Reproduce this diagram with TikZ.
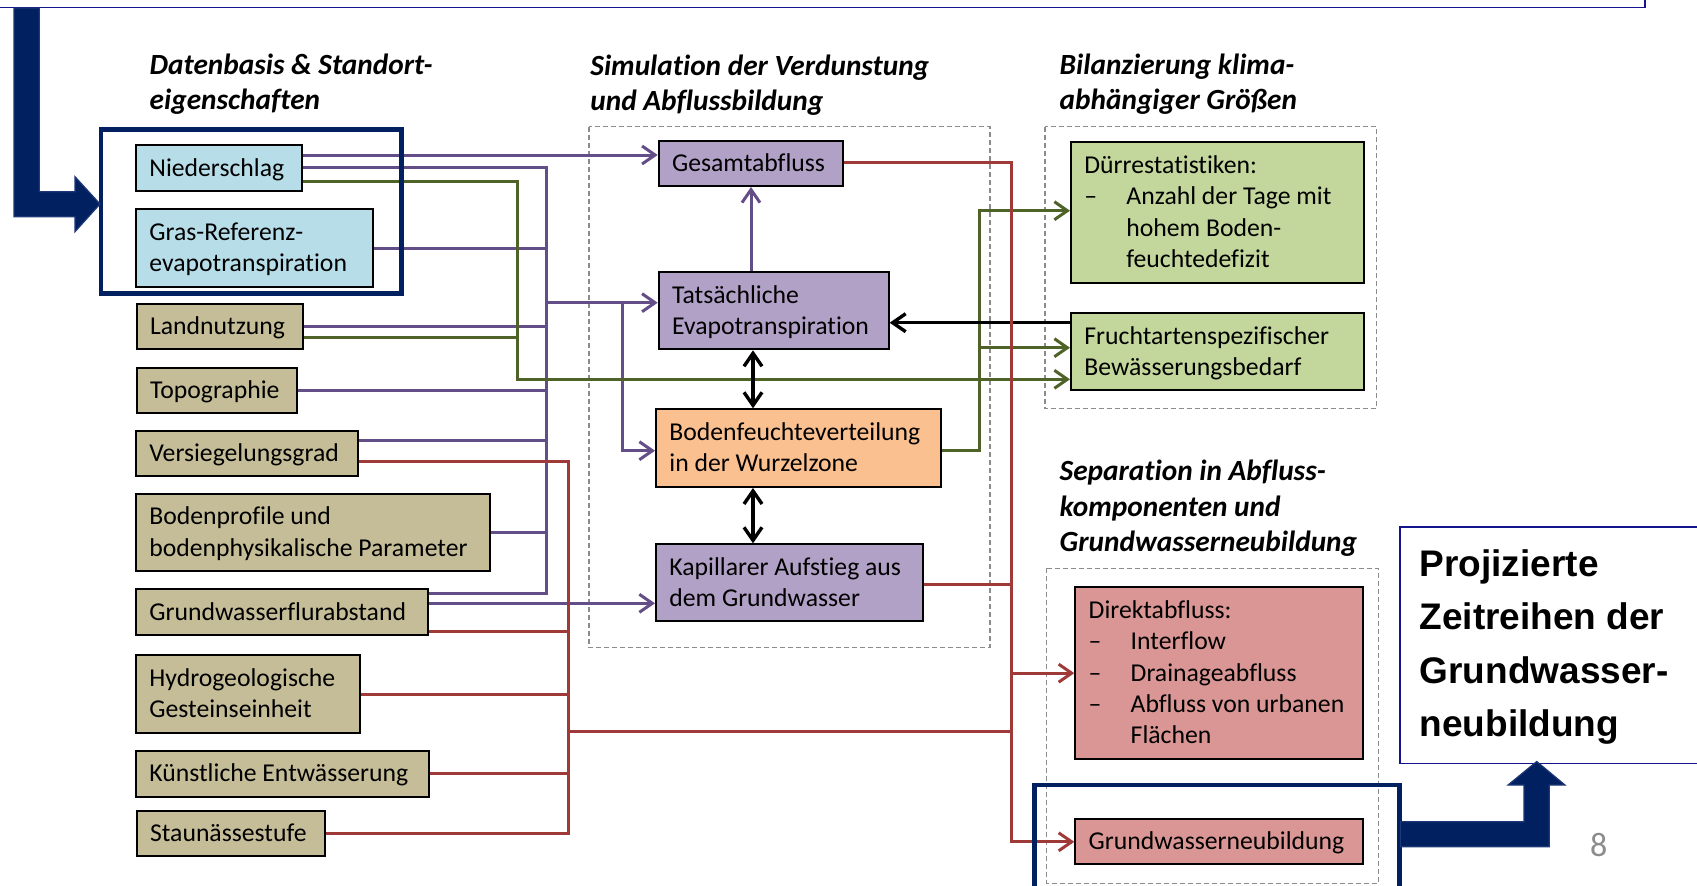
\documentclass[tikz,border=0pt]{standalone}
\usepackage{fontspec}
\setmainfont{Carlito}[Ligatures=NoCommon]
\newfontfamily\arialfont{Liberation Sans}
\usetikzlibrary{arrows.meta}
\definecolor{cBlue}{RGB}{183,221,232}
\definecolor{cTan}{RGB}{196,189,151}
\definecolor{cPurp}{RGB}{178,161,199}
\definecolor{cOrange}{RGB}{250,192,144}
\definecolor{cGreen}{RGB}{195,214,155}
\definecolor{cRed}{RGB}{217,150,148}
\definecolor{lPurp}{RGB}{100,78,135}
\definecolor{lGreen}{RGB}{79,98,40}
\definecolor{lRed}{RGB}{160,58,56}
\definecolor{navy}{RGB}{0,32,96}
\definecolor{navyedge}{RGB}{30,55,120}
\definecolor{topBlue}{RGB}{20,20,140}
\definecolor{pgnum}{RGB}{140,140,140}
\newcommand\mylines[2][15.65pt]{\vtop{\baselineskip=#1\relax\halign{##\hfil\cr#2\crcr}}}
\newcommand\dashitem[1]{\makebox[21pt][l]{–}#1}
\newcommand\inditem[1]{\hspace*{21pt}#1}
\begin{document}
\begin{tikzpicture}[x=0.5pt,y=-0.5pt,
  box/.style={draw=black,line width=1pt,inner sep=0pt,anchor=north west},
  txt/.style={anchor=base west,inner sep=0pt,font=\fontsize{12.85pt}{15.65pt}\selectfont},
  head/.style={anchor=base west,inner sep=0pt,font=\fontsize{14.65pt}{17.65pt}\selectfont\bfseries\itshape},
  conn/.style={line width=1.5pt},
  pl/.style={conn,draw=lPurp},
  gl/.style={conn,draw=lGreen},
  rl/.style={conn,draw=lRed},
  bl/.style={line width=1.7pt,draw=black},
  arr/.style={-{Straight Barb[length=6.5pt,width=9pt]}},
  darr/.style={{Straight Barb[length=6.5pt,width=9pt]}-{Straight Barb[length=6.5pt,width=9pt]}},
  grp/.style={draw=black!45,line width=0.6pt,dash pattern=on 2.5pt off 1.5pt},
  hl/.style={draw=navy,line width=2.35pt},
  fat/.style={fill=navy,draw=navyedge,line width=0.6pt},
]
\useasboundingbox (0,0) rectangle (1697,885);
\fill[white] (0,0) rectangle (1697,885);

% top line
\draw[topBlue,line width=0.8pt] (0,7.3) -- (1645,7.3) -- (1645,-3);

% group frames
\draw[grp] (589,126.7) rectangle (990,647.3);
\draw[grp] (1045,126.7) rectangle (1376.7,408.3);
\draw[grp] (1046.7,568.3) rectangle (1378.3,883.3);

% headings
\node[head] (h1) at (149.3,74) {\mylines[17.65pt]{Datenbasis \& Standort-\cr eigenschaften}};
\node[head] (h2) at (590,75) {\mylines[17.65pt]{Simulation der Verdunstung\cr und Abflussbildung}};
\node[head] (h3) at (1059.3,74) {\mylines[17.65pt]{Bilanzierung klima-\cr abhängiger Größen}};
\node[head] (h4) at (1059.3,480.7) {\mylines[17.65pt]{Separation in Abfluss-\cr komponenten und\cr Grundwasserneubildung}};

% boxes
\node[box,fill=cBlue,minimum width=83pt,minimum height=23pt] (nied) at (135,144.3) {};
\node[box,fill=cBlue,minimum width=118.35pt,minimum height=38.7pt] (gras) at (135,208.3) {};
\node[box,fill=cTan,minimum width=83pt,minimum height=22.8pt] (land) at (135.7,302.7) {};
\node[box,fill=cTan,minimum width=80.15pt,minimum height=22.5pt] (topo) at (135.7,366.7) {};
\node[box,fill=cTan,minimum width=111.15pt,minimum height=22.5pt] (vers) at (135,430) {};
\node[box,fill=cTan,minimum width=177pt,minimum height=38.65pt] (bode) at (135,492.7) {};
\node[box,fill=cTan,minimum width=145.85pt,minimum height=22.85pt] (gwfa) at (135,588.3) {};
\node[box,fill=cTan,minimum width=112.15pt,minimum height=38.7pt] (hydr) at (135,654.3) {};
\node[box,fill=cTan,minimum width=146.65pt,minimum height=22.85pt] (kuen) at (135,750) {};
\node[box,fill=cTan,minimum width=94.15pt,minimum height=22.5pt] (stau) at (135.7,810) {};
\node[box,fill=cPurp,minimum width=92.3pt,minimum height=22.5pt] (gesa) at (657.7,140) {};
\node[box,fill=cPurp,minimum width=115pt,minimum height=38.65pt] (tats) at (657.7,271) {};
\node[box,fill=cOrange,minimum width=142.5pt,minimum height=38.85pt] (bofe) at (655,408.3) {};
\node[box,fill=cPurp,minimum width=133.65pt,minimum height=38.35pt] (kapi) at (655,543.3) {};
\node[box,fill=cGreen,minimum width=146.35pt,minimum height=70.35pt] (duer) at (1070,141) {};
\node[box,fill=cGreen,minimum width=146.35pt,minimum height=38.35pt] (fruc) at (1070,312.3) {};
\node[box,fill=cRed,minimum width=144pt,minimum height=86.15pt] (dire) at (1074.3,586) {};
\node[box,fill=cRed,minimum width=144pt,minimum height=22.5pt] (gwnb) at (1074.3,818.3) {};

% purple connectors
\coordinate (pbusT) at (546.7,167.7);
\coordinate (pbusB) at (546.7,593.3);
\coordinate (pbr) at (622.7,302.7);
\draw[pl,arr] (nied.east |- 0,155) -- (gesa.west |- 0,155);
\draw[pl] (nied.east |- pbusT) -- (pbusT) -- (pbusB) -- (gwfa.east |- pbusB);
\draw[pl] (gras.east) -- (gras.east -| pbusT);
\draw[pl] (land.east) -- (land.east -| pbusT);
\draw[pl] (topo.east) -- (topo.east -| pbusT);
\draw[pl] (vers.east |- 0,440.7) -- (pbusT |- 0,440.7);
\draw[pl] (bode.east) -- (bode.east -| pbusT);
\draw[pl,arr] (pbusT |- pbr) -- (tats.west |- pbr);
\draw[pl,arr] (pbr) |- (bofe.west |- 0,450.7);
\draw[pl,arr] (gwfa.east |- 0,603.3) -- (kapi.west |- 0,603.3);
\draw[pl,arr] (gesa.south |- tats.north) -- (gesa.south);

% green connectors
\coordinate (gv) at (517.3,181.7);
\coordinate (gr) at (979.3,450);
\draw[gl,arr] (nied.east |- gv) -- (gv) -- (gv |- 0,379.3) -- (fruc.west |- 0,379.3);
\draw[gl] (land.east |- 0,337.3) -- (gv |- 0,337.3);
\draw[gl,arr] (bofe.east |- gr) -- (gr) |- (duer.west |- 0,210.7);
\draw[gl,arr] (gr |- 0,347.7) -- (fruc.west |- 0,347.7);

% black connectors
\draw[bl,arr] (fruc.west |- 0,322.7) -- (tats.east |- 0,322.7);
\draw[bl,darr] (753,0 |- tats.south) -- (753,0 |- bofe.north);
\draw[bl,darr] (753,0 |- bofe.south) -- (753,0 |- kapi.north);

% red connectors
\coordinate (rb) at (1011,162.7);
\coordinate (rv) at (568.3,461.7);
\draw[rl,arr] (gesa.east |- rb) -- (rb) |- (gwnb.west);
\draw[rl] (kapi.east |- 0,584.3) -- (rb |- 0,584.3);
\draw[rl,arr] (rb |- dire.west) -- (dire.west);
\draw[rl] (vers.east |- rv) -- (rv) |- (stau.east);
\draw[rl] (gwfa.east |- 0,631) -- (rv |- 0,631);
\draw[rl] (hydr.east) -- (hydr.east -| rv);
\draw[rl] (kuen.east) -- (kuen.east -| rv);
\draw[rl] (rv |- 0,731) -- (rb |- 0,731);

% box texts
\node[txt] (nied-t) at ([xshift=7pt,yshift=-4pt]nied.west) {\mylines{Niederschlag}};
\node[txt] (gras-t) at ([xshift=7pt,yshift=3.825pt]gras.west) {\mylines{Gras-Referenz-\cr evapotranspiration}};
\node[txt] (land-t) at ([xshift=7pt,yshift=-4pt]land.west) {\mylines{Landnutzung}};
\node[txt] (topo-t) at ([xshift=7pt,yshift=-4pt]topo.west) {\mylines{Topographie}};
\node[txt] (vers-t) at ([xshift=7pt,yshift=-4pt]vers.west) {\mylines{Versiegelungsgrad}};
\node[txt] (bode-t) at ([xshift=7pt,yshift=3.825pt]bode.west) {\mylines{Bodenprofile und\cr bodenphysikalische Parameter}};
\node[txt] (gwfa-t) at ([xshift=7pt,yshift=-4pt]gwfa.west) {\mylines{Grundwasserflurabstand}};
\node[txt] (hydr-t) at ([xshift=7pt,yshift=3.825pt]hydr.west) {\mylines{Hydrogeologische\cr Gesteinseinheit}};
\node[txt] (kuen-t) at ([xshift=7pt,yshift=-4pt]kuen.west) {\mylines{Künstliche Entwässerung}};
\node[txt] (stau-t) at ([xshift=7pt,yshift=-4pt]stau.west) {\mylines{Staunässestufe}};
\node[txt] (gesa-t) at ([xshift=7pt,yshift=-4pt]gesa.west) {\mylines{Gesamtabfluss}};
\node[txt] (tats-t) at ([xshift=7pt,yshift=3.825pt]tats.west) {\mylines{Tatsächliche\cr Evapotranspiration}};
\node[txt] (bofe-t) at ([xshift=7pt,yshift=3.825pt]bofe.west) {\mylines{Bodenfeuchteverteilung\cr in der Wurzelzone}};
\node[txt] (kapi-t) at ([xshift=7pt,yshift=3.825pt]kapi.west) {\mylines{Kapillarer Aufstieg aus\cr dem Grundwasser}};
\node[txt] (duer-t) at ([xshift=7pt,yshift=19.475pt]duer.west) {\mylines{Dürrestatistiken:\cr \dashitem{Anzahl der Tage mit}\cr \inditem{hohem Boden-}\cr \inditem{feuchtedefizit}}};
\node[txt] (fruc-t) at ([xshift=7pt,yshift=3.825pt]fruc.west) {\mylines{Fruchtartenspezifischer\cr Bewässerungsbedarf}};
\node[txt] (dire-t) at ([xshift=7pt,yshift=27.3pt]dire.west) {\mylines{Direktabfluss:\cr \dashitem{Interflow}\cr \dashitem{Drainageabfluss}\cr \dashitem{Abfluss von urbanen}\cr \inditem{Flächen}}};
\node[txt] (gwnb-t) at ([xshift=7pt,yshift=-4pt]gwnb.west) {\mylines{Grundwasserneubildung}};

% highlight frames
\draw[hl] (101,129.3) rectangle (401.7,293.3);
\draw[hl] (1034.3,895) |- (1399.3,785) -- (1399.3,895);

% projected box
\node[draw=topBlue,fill=white,line width=0.75pt,anchor=north west,inner sep=0pt,minimum width=162pt,minimum height=118.35pt] (proj) at (1399,526) {};
\node[anchor=base west,inner sep=0pt,font=\arialfont\bfseries\fontsize{18.5pt}{26.8pt}\selectfont] (proj-t) at (1419.3,576) {\mylines[26.8pt]{Projizierte\cr Zeitreihen der\cr Grundwasser-\cr neubildung}};

% fat arrows
\fill[fat] (14,8) -- (39.3,8) -- (39.3,191.7) -- (75,191.7) -- (75,176.7) -- (100,204) -- (75,231.7) -- (75,216.7) -- (14,216.7) -- cycle;
\fill[fat] (1400.5,821.7) -- (1524,821.7) -- (1524,785) -- (1508,785) -- (1536.7,761.5) -- (1565,785) -- (1549.3,785) -- (1549.3,846.7) -- (1400.5,846.7) -- cycle;

% page number
\node[anchor=base,inner sep=0pt,text=pgnum,font=\fontsize{17pt}{20pt}\selectfont] (pg) at (1598.6,856.7) {8};
\end{tikzpicture}
\end{document}
